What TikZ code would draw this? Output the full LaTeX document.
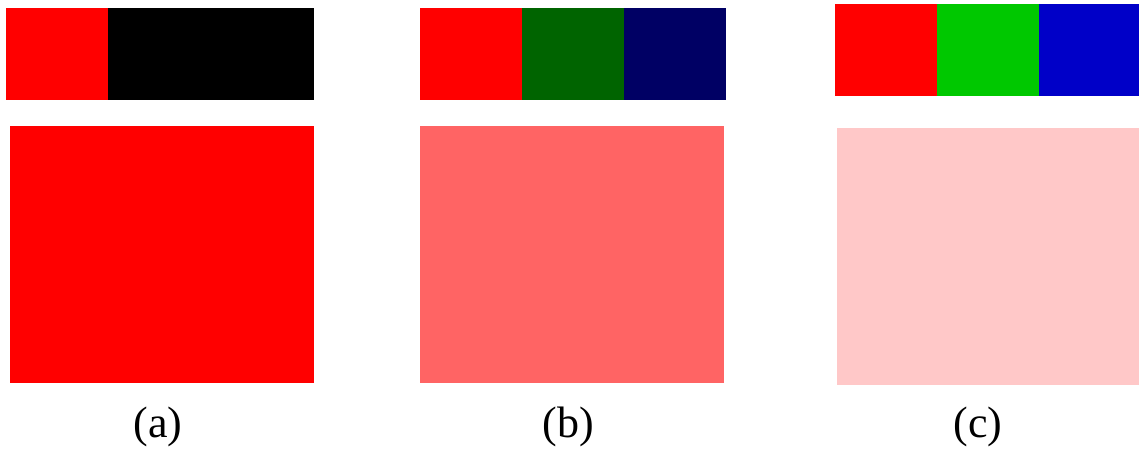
\documentclass[tikz,border=0pt]{standalone}
\usepackage{fontspec}
\setmainfont{Liberation Serif}
\usepackage{tikz}
\usetikzlibrary{positioning}
\usepackage{xcolor}
\definecolor{PureRed}{RGB}{255,0,0}
\definecolor{DimGreen}{RGB}{0,100,0}
\definecolor{DimBlue}{RGB}{0,0,100}
\definecolor{MidGreen}{RGB}{0,200,0}
\definecolor{MidBlue}{RGB}{0,0,200}
\definecolor{MixPink}{RGB}{255,100,100}
\definecolor{PalePink}{RGB}{255,200,200}

\begin{document}
\begin{tikzpicture}[
    x=1pt, y=-1pt,
    swatch/.style={anchor=north west, inner sep=0pt, outer sep=0pt, minimum width=102pt, minimum height=92pt},
    mix/.style={anchor=north west, inner sep=0pt, outer sep=0pt, minimum width=304pt, minimum height=257pt},
    caption/.style={font=\fontsize{44}{48}\selectfont, inner sep=0pt}
  ]
    \useasboundingbox (0,0) rectangle (1139,453);

    % (a)
    \node[swatch, fill=PureRed] (aRed) at (6, 8) {};
    \node[swatch, fill=black, minimum width=206pt] (aBlack) at (108, 8) {};
    \node[mix, fill=PureRed] (aMix) at (10, 126) {};
    \node[caption] (aCap) at (158, 427) {(a)};

    % (b)
    \node[swatch, fill=PureRed] (bRed) at (420, 8) {};
    \node[swatch, fill=DimGreen] (bGreen) at (522, 8) {};
    \node[swatch, fill=DimBlue] (bBlue) at (624, 8) {};
    \node[mix, fill=MixPink] (bMix) at (420, 126) {};
    \node[caption] (bCap) at (568, 427) {(b)};

    % (c)
    \node[swatch, fill=PureRed] (cRed) at (835, 4) {};
    \node[swatch, fill=MidGreen] (cGreen) at (937, 4) {};
    \node[swatch, fill=MidBlue, minimum width=100pt] (cBlue) at (1039, 4) {};
    \node[mix, fill=PalePink, minimum width=302pt] (cMix) at (837, 128) {};
    \node[caption] (cCap) at (978, 427) {(c)};
  \end{tikzpicture}
\end{document}
